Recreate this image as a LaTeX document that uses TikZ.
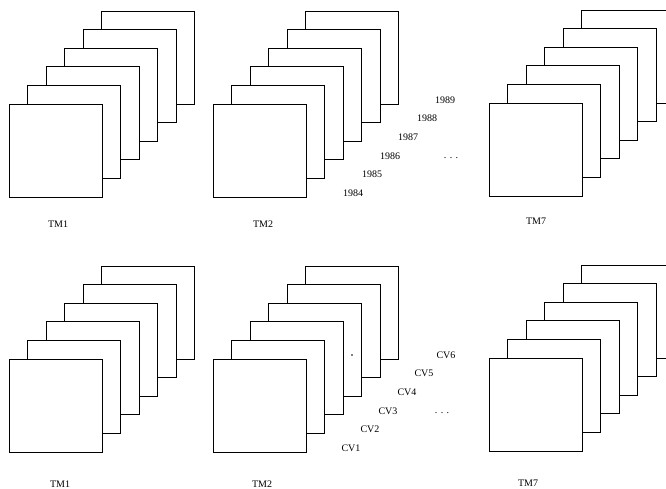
\documentclass[tikz,border=0pt]{standalone}
\usepackage{fontspec}
\setmainfont{Liberation Serif}
\begin{document}
\begin{tikzpicture}[x=1pt,y=-1pt,
  sheet/.style={draw=black, fill=white, line width=0.75pt, minimum width=93pt, minimum height=93pt, inner sep=0pt, outer sep=0pt, anchor=north west},
  lbl/.style={font=\fontsize{10}{12}\selectfont, inner sep=0pt}]
\useasboundingbox (0,0) rectangle (666,489);
\clip (0,0) rectangle (666,489);
\foreach \nm/\xx/\yy in {a/9/104, b/213/104, c/489/103, d/9/359, e/213/359, f/489/358} {
  \foreach \i in {5,4,...,0} {
    \node[sheet] (\nm\i) at ({\xx+18.5*\i},{\yy-18.6*\i}) {};
  }
}
% stack labels
\node[lbl] (ta) at (58,224) {TM1};
\node[lbl] (tb) at (263,224) {TM2};
\node[lbl] (tc) at (536,221) {TM7};
\node[lbl] (td) at (60,484) {TM1};
\node[lbl] (te) at (262,484) {TM2};
\node[lbl] (tf) at (528,483) {TM7};
% years
\node[lbl] (y84) at (353,193) {1984};
\node[lbl] (y85) at (372,174) {1985};
\node[lbl] (y86) at (390,156) {1986};
\node[lbl] (y87) at (408,137) {1987};
\node[lbl] (y88) at (427,118) {1988};
\node[lbl] (y89) at (445,100) {1989};
\node[lbl] (dtop) at (451,158) {.\,\,.\,\,.};
% CVs
\node[lbl] (cv1) at (351,448) {CV1};
\node[lbl] (cv2) at (370,429) {CV2};
\node[lbl] (cv3) at (388,411) {CV3};
\node[lbl] (cv4) at (407,392) {CV4};
\node[lbl] (cv5) at (424,373) {CV5};
\node[lbl] (cv6) at (446,355) {CV6};
\node[lbl] (dbot) at (442,413) {.\,\,.\,\,.};
\fill (352,355) circle (0.9);
\end{tikzpicture}
\end{document}
